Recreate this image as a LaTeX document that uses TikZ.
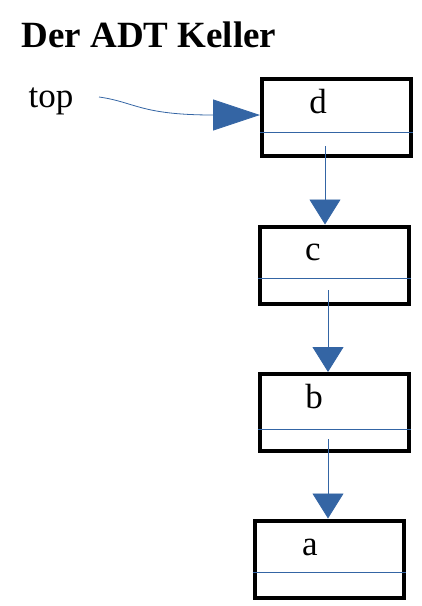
\documentclass[tikz,border=0pt]{standalone}
\usepackage{fontspec}
\setmainfont{Liberation Serif}
\newfontfamily\timesfont{Liberation Serif}
\usetikzlibrary{arrows.meta,positioning}
\definecolor{linkblue}{RGB}{52,101,164}

\begin{document}
\begin{tikzpicture}[x=1pt,y=-1pt,cell/.style={draw,line width=4pt,minimum width=149pt,minimum height=77pt,inner sep=0pt},lbl/.style={anchor=base,font=\timesfont\fontsize{35}{38}\selectfont},sep/.style={linkblue,line width=0.8pt},arr/.style={linkblue,line width=0.8pt,-{Triangle[length=25pt,width=31pt]}}]
\useasboundingbox (0,0) rectangle (421,606);
\node[anchor=base west,font=\timesfont\bfseries\fontsize{37}{40}\selectfont] (title) at (18,47) {Der ADT Keller};
\node[cell] (d) at (336.5,117.5) {}; \node[cell] (c) at (334,265) {}; \node[cell] (b) at (334,412.5) {}; \node[cell] (a) at (329,559) {};
\node[lbl] (dl) at (318,113) {d}; \node[lbl] (cl) at (313,260) {c}; \node[lbl] (bl) at (314,408) {b}; \node[lbl] (al) at (310,555) {a};
\draw[sep] ([yshift=-55pt]d.north west) -- ([yshift=-55pt]d.north east);
\draw[sep] ([yshift=-54pt]c.north west) -- ([yshift=-54pt]c.north east);
\draw[sep] ([yshift=-57pt]b.north west) -- ([yshift=-57pt]b.north east);
\draw[sep] ([yshift=-54pt]a.north west) -- ([yshift=-54pt]a.north east);
\coordinate (dp) at (325,146); \coordinate (cp) at (328,290); \coordinate (bp) at (328,439);
\draw[arr] (dp) -- (dp |- c.north); \draw[arr] (cp) -- (cp |- b.north); \draw[arr] (bp) -- (bp |- a.north);
% pointer to the top element
\node[lbl,anchor=base west] (top) at (25,107) {top};
\coordinate (tp) at (99,97);
\draw[linkblue,line width=0.8pt,-{Triangle[length=47pt,width=31pt]}] (tp) .. controls (135,102) and (140,115) .. ([yshift=2.5pt]d.west);
\end{tikzpicture}
\end{document}
